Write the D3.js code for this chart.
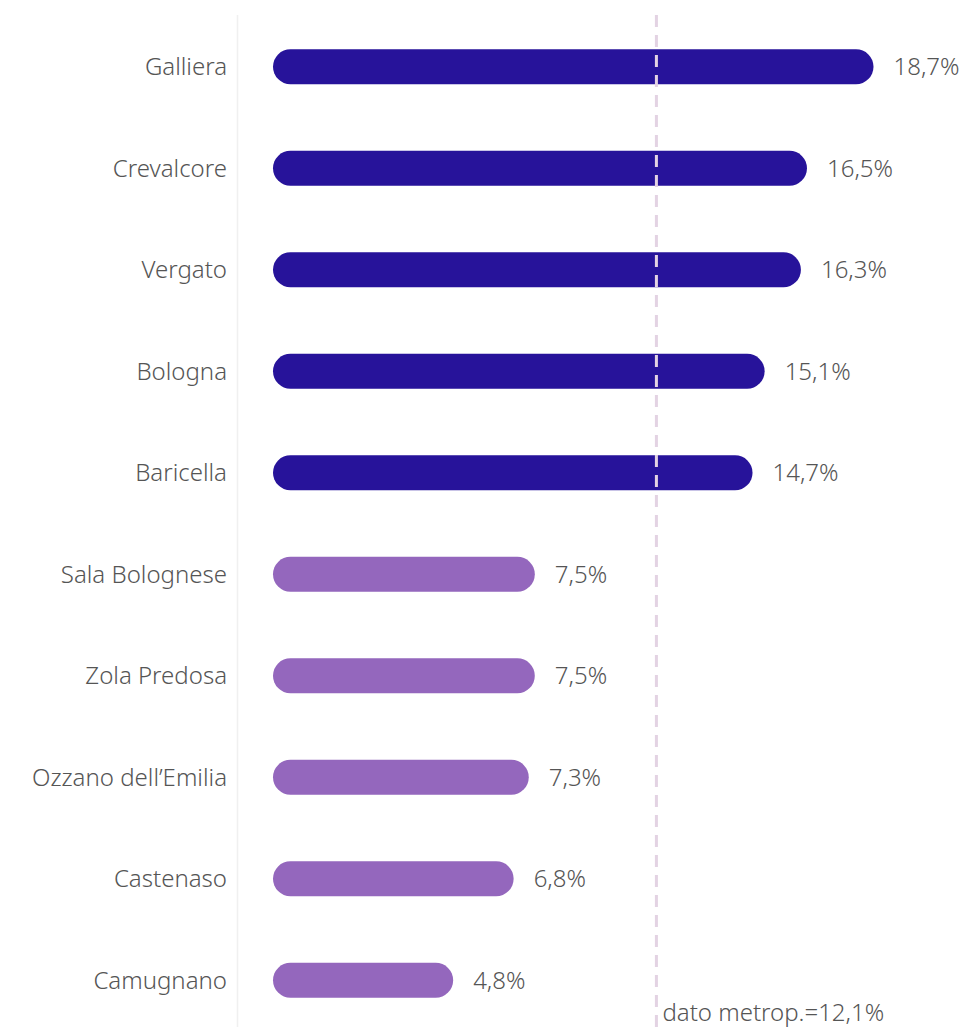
<!DOCTYPE html>
<html lang="it">
<head>
    <meta charset="UTF-8">
    <title>comuni</title>
    <script src="https://cdn.jsdelivr.net/npm/d3@7"></script>
    <style>
        body { margin: 0; background: #fff; }
        text { font-family: "Noto Sans", "Open Sans", sans-serif; fill: #555; font-size: 24px; font-weight: 300; }
    </style>
</head>
<body>
<svg width="965" height="1027"></svg>
<script>
    const comuni = ["Galliera", "Crevalcore", "Vergato", "Bologna", "Baricella",
        "Sala Bolognese", "Zola Predosa", "Ozzano dell\u2019Emilia", "Castenaso", "Camugnano"]
    const valori = [18.7, 16.5, 16.3, 15.1, 14.7, 7.5, 7.5, 7.3, 6.8, 4.8]
    const gruppo = ["alto", "alto", "alto", "alto", "alto", "basso", "basso", "basso", "basso", "basso"]
    const datoMetrop = 12.1

    let svg = d3.select('svg')
    let barH = 35

    let xScale = d3.scaleLinear().domain([0, 18.7]).range([290.5, 856])
    let yScale = d3.scaleBand().domain(comuni).range([16, 1031]).paddingInner(0).paddingOuter(0)
    let colore = d3.scaleOrdinal().domain(["alto", "basso"]).range(["#27139a", "#9467bd"])
    let fmt = v => d3.format(".1f")(v).replace(".", ",") + "%"

    let data = comuni.map((c, i) => ({nome: c, v: valori[i], g: gruppo[i]}))
    let yc = d => yScale(d.nome) + yScale.bandwidth() / 2

    // light axis line
    svg.append('line')
        .attr('x1', 237.5).attr('x2', 237.5)
        .attr('y1', 15).attr('y2', 1027)
        .style('stroke', '#f0f0f0').style('stroke-width', 1.5)

    // bars as thick round-capped lines
    svg.append('g').selectAll('line').data(data).join('line')
        .attr('x1', xScale(0))
        .attr('x2', d => xScale(d.v))
        .attr('y1', yc).attr('y2', yc)
        .style('stroke', d => colore(d.g))
        .style('stroke-width', barH)
        .style('stroke-linecap', 'round')

    // reference line
    svg.append('line')
        .attr('x1', xScale(datoMetrop)).attr('x2', xScale(datoMetrop))
        .attr('y1', 15).attr('y2', 1027)
        .style('stroke', '#e3d3e3').style('stroke-width', 3)
        .style('stroke-dasharray', '12,8')

    svg.append('text')
        .attr('x', xScale(datoMetrop) + 6).attr('y', 1021)
        .text("dato metrop.=" + fmt(datoMetrop))

    // category labels
    svg.append('g').selectAll('text').data(data).join('text')
        .attr('x', 227).attr('y', yc)
        .attr('dy', '0.35em')
        .attr('text-anchor', 'end')
        .text(d => d.nome)

    // value labels
    svg.append('g').selectAll('text').data(data).join('text')
        .attr('x', d => xScale(d.v) + barH / 2 + 20).attr('y', yc)
        .attr('dy', '0.35em')
        .text(d => fmt(d.v))
</script>
</body>
</html>
